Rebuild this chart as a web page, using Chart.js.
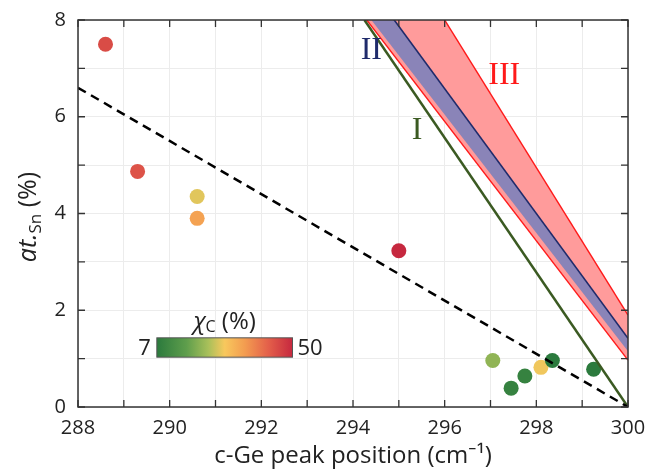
<!DOCTYPE html>
<html><head><meta charset="utf-8">
<script src="https://cdn.jsdelivr.net/npm/chart.js@4.4.1/dist/chart.umd.min.js"></script>
<style>html,body{margin:0;padding:0;background:#fff;}#wrap{width:649px;height:472px;position:relative;}</style>
</head><body><div id="wrap"><canvas id="c"></canvas></div>
<script>
// ---- data ----
const peakPos = [288.6, 289.3, 290.6, 290.6, 295.0, 297.05, 297.45, 297.75, 298.1, 298.35, 299.25];
const atSn    = [7.5, 4.87, 4.35, 3.9, 3.23, 0.96, 0.39, 0.64, 0.82, 0.96, 0.78];
const chiC    = [45, 44, 27, 34, 50, 21, 9, 9, 28, 7, 7];
const chiRange = [7, 50];
const xRange = [288, 300];
const yRange = [0, 8];
const dashedLine   = [[288, 6.6], [300, 0]];
const lineI        = [[294.25, 8], [300, 0]];
const bandIIlower  = [[294, 8.49], [300, 1.15]];
const bandIIupper  = [[294, 9.16], [300, 1.42]];
const bandIIIlower = [[294, 8.37], [300, 0.97]];
const bandIIIupper = [[294, 11.05], [300, 1.9]];
const regionLabels = ['I', 'II', 'III'];
const regionLabelX = [295.4, 294.4, 297.3];
const regionLabelY = [5.72, 7.36, 6.85];

// ---- styles ----
const cmapStops = [[0,'#2b7a3d'],[0.22,'#5f9e4c'],[0.38,'#a9c05a'],[0.5,'#f8c85d'],[0.65,'#f39c50'],[0.82,'#e4604a'],[1,'#c6283f']];
function hex2rgb(h){return [parseInt(h.substr(1,2),16),parseInt(h.substr(3,2),16),parseInt(h.substr(5,2),16)];}
function cmap(v){
  let t=(v-chiRange[0])/(chiRange[1]-chiRange[0]); t=Math.max(0,Math.min(1,t));
  for(let i=1;i<cmapStops.length;i++){
    if(t<=cmapStops[i][0]){
      const a=cmapStops[i-1],b=cmapStops[i];const f=(t-a[0])/(b[0]-a[0]);
      const ca=hex2rgb(a[1]),cb=hex2rgb(b[1]);
      return 'rgb('+ca.map((c,k)=>Math.round(c+(cb[k]-c)*f)).join(',')+')';
    }
  }
  return cmapStops[cmapStops.length-1][1];
}
const toXY = arr => arr.map(p => ({x:p[0], y:p[1]}));
const FONT = "'Open Sans', 'Noto Sans', sans-serif";

const lineBase = {showLine:true, pointRadius:0, clip:0, tension:0};
const datasets = [
  Object.assign({data:toXY(dashedLine), borderColor:'#000', borderWidth:2.5, borderDash:[9,6]}, lineBase),
  Object.assign({data:toXY(lineI), borderColor:'#3b5a22', borderWidth:2.5}, lineBase),
  {data: peakPos.map((x,i)=>({x:x, y:atSn[i]})), pointRadius:7.5, pointBackgroundColor: chiC.map(cmap), pointBorderWidth:0, showLine:false},
  Object.assign({data:toXY(bandIIupper), borderColor:'#1f2b6b', borderWidth:1.6}, lineBase),
  Object.assign({data:toXY(bandIIlower), borderColor:'rgba(0,0,0,0)', borderWidth:0, fill:3, backgroundColor:'#8a84b8'}, lineBase),
  Object.assign({data:toXY(bandIIIupper), borderColor:'#ff1a1a', borderWidth:1.4}, lineBase),
  Object.assign({data:toXY(bandIIIlower), borderColor:'#ff1a1a', borderWidth:1.4, fill:5, backgroundColor:'#ff9b9b'}, lineBase)
];

const decor = {
  id:'decor',
  afterDraw(chart){
    const ctx=chart.ctx, xs=chart.scales.x, ys=chart.scales.y, a=chart.chartArea;
    ctx.save();
    ctx.strokeStyle='#333'; ctx.lineWidth=1.5;
    ctx.strokeRect(a.left, a.top, a.right-a.left, a.bottom-a.top);
    ctx.lineWidth=1.3; ctx.beginPath();
    xs.ticks.forEach(t=>{const p=xs.getPixelForValue(t.value);
      ctx.moveTo(p,a.bottom);ctx.lineTo(p,a.bottom-7);ctx.moveTo(p,a.top);ctx.lineTo(p,a.top+7);});
    ys.ticks.forEach(t=>{const p=ys.getPixelForValue(t.value);
      ctx.moveTo(a.left,p);ctx.lineTo(a.left+7,p);ctx.moveTo(a.right,p);ctx.lineTo(a.right-7,p);});
    ctx.stroke();
    const labColors=['#3b5a22','#1f2b6b','#ff1a1a'];
    ctx.font="32px 'Liberation Serif', serif"; ctx.textAlign='center'; ctx.textBaseline='middle';
    regionLabels.forEach((s,i)=>{ctx.fillStyle=labColors[i];ctx.fillText(s, xs.getPixelForValue(regionLabelX[i]), ys.getPixelForValue(regionLabelY[i]));});
    ctx.fillStyle='#222'; ctx.textBaseline='alphabetic';
    const yParts=[["italic 25px "+FONT,"at.",0],["17px "+FONT,"Sn",5],["25px "+FONT," (%)",0]];
    drawParts(ctx, yParts, 36, 217, true);
    const cx0=xs.getPixelForValue(289.72), cx1=xs.getPixelForValue(292.68);
    const cy0=ys.getPixelForValue(1.43), cy1=ys.getPixelForValue(1.03);
    const g=ctx.createLinearGradient(cx0,0,cx1,0);
    cmapStops.forEach(s=>g.addColorStop(s[0],s[1]));
    ctx.fillStyle=g; ctx.fillRect(cx0,cy0,cx1-cx0,cy1-cy0);
    ctx.strokeStyle='#555'; ctx.lineWidth=1; ctx.strokeRect(cx0,cy0,cx1-cx0,cy1-cy0);
    ctx.fillStyle='#222'; ctx.font="22px "+FONT; ctx.textBaseline='middle';
    ctx.textAlign='right'; ctx.fillText(String(chiRange[0]), cx0-6, (cy0+cy1)/2+1);
    ctx.textAlign='left'; ctx.fillText(String(chiRange[1]), cx1+5, (cy0+cy1)/2+1);
    ctx.textBaseline='alphabetic';
    const cParts=[["italic 24px "+FONT,"χ",0],["16px "+FONT,"C",3],["24px "+FONT," (%)",0]];
    drawParts(ctx, cParts, (cx0+cx1)/2, cy0-9, false);
    ctx.restore();
  }
};
function drawParts(ctx, parts, cx, baseY, rotate){
  let w=0; parts.forEach(p=>{ctx.font=p[0]; w+=ctx.measureText(p[1]).width;});
  ctx.save();
  ctx.translate(cx, baseY); if(rotate) ctx.rotate(-Math.PI/2);
  let x=-w/2; ctx.textAlign='left';
  parts.forEach(p=>{ctx.font=p[0]; ctx.fillText(p[1], x, p[2]); x+=ctx.measureText(p[1]).width;});
  ctx.restore();
}

new Chart(document.getElementById('c'), {
  type:'scatter',
  data:{datasets:datasets},
  options:{
    responsive:true, maintainAspectRatio:false, animation:false,
    layout:{padding:{top:20, right:21, left:0, bottom:0}},
    plugins:{legend:{display:false}, tooltip:{enabled:false}},
    scales:{
      x:{type:'linear', min:xRange[0], max:xRange[1],
        afterFit(s){s.height=65; s.paddingLeft=0; s.paddingRight=0;},
        grid:{color:'#ececec', drawTicks:false}, border:{display:false},
        ticks:{stepSize:1, autoSkip:false, maxRotation:0, padding:9, color:'#222', font:{family:FONT, size:20},
          callback:v=> (v%2===0? String(v):'')},
        title:{display:true, text:'c-Ge peak position (cm⁻¹)', color:'#222', font:{family:FONT, size:24}, padding:{top:0,bottom:1}}
      },
      y:{type:'linear', min:yRange[0], max:yRange[1],
        afterFit(s){s.width=78; s.paddingTop=0; s.paddingBottom=0;},
        grid:{color:'#ececec', drawTicks:false}, border:{display:false},
        ticks:{stepSize:1, autoSkip:false, padding:12, color:'#222', font:{family:FONT, size:20},
          callback:v=> (v%2===0? String(v):'')}
      }
    }
  },
  plugins:[decor]
});
</script></body></html>
